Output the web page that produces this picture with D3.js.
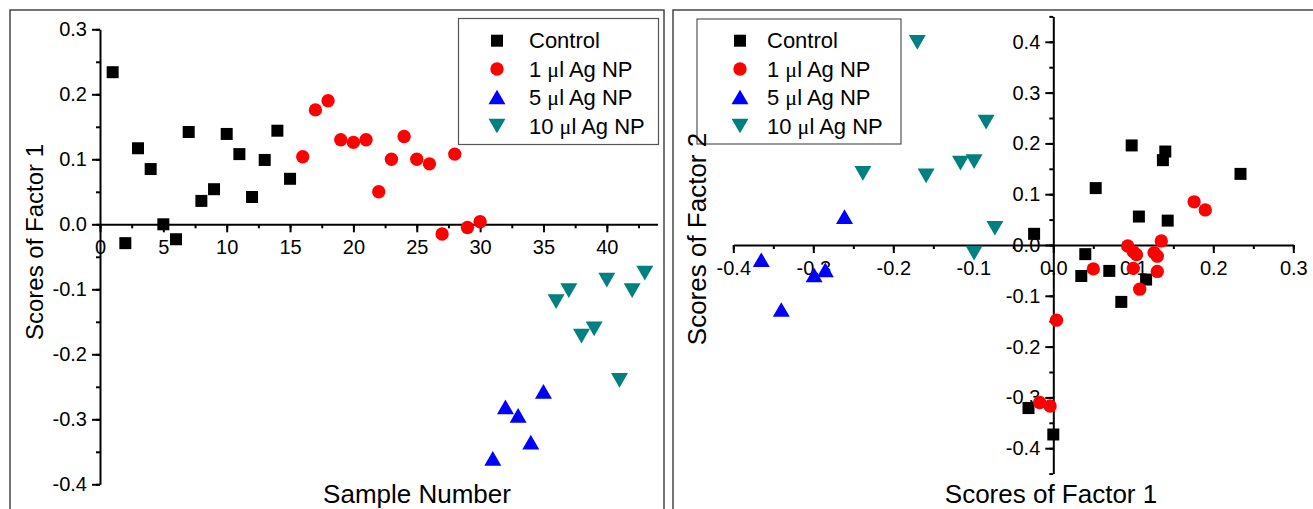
<!DOCTYPE html>
<html>
<head>
<meta charset="utf-8">
<script src="https://cdn.jsdelivr.net/npm/d3@7"></script>
<style>
  html, body { margin: 0; padding: 0; background: #fff; }
  svg { display: block; font-family: Arial, "Liberation Sans", sans-serif; }
</style>
</head>
<body>
<svg class="svg"></svg>
<script>
// legend / series names
const groupNames = ["Control", "1 \u03bcl Ag NP", "5 \u03bcl Ag NP", "10 \u03bcl Ag NP"]
const groupColors = ["#000000", "#ff0000", "#0000ff", "#008080"]

// left panel: scores of factor 1 by sample number
const sampleControl = [1, 2, 3, 4, 5, 6, 7, 8, 9, 10, 11, 12, 13, 14, 15]
const f1Control = [0.234, -0.029, 0.117, 0.085, 0.000, -0.023, 0.142, 0.036, 0.054, 0.139, 0.108, 0.042, 0.099, 0.144, 0.070]
const sample1ul = [16, 17, 18, 19, 20, 21, 22, 23, 24, 25, 26, 27, 28, 29, 30]
const f1Ag1 = [0.104, 0.176, 0.190, 0.130, 0.126, 0.130, 0.050, 0.100, 0.135, 0.100, 0.093, -0.015, 0.108, -0.005, 0.004]
const sample5ul = [31, 32, 33, 34, 35]
const f1Ag5 = [-0.360, -0.281, -0.294, -0.335, -0.257]
const sample10ul = [36, 37, 38, 39, 40, 41, 42, 43]
const f1Ag10 = [-0.119, -0.102, -0.172, -0.161, -0.086, -0.240, -0.102, -0.075]

// right panel: factor 1 vs factor 2
const pcControlX = [0.098, 0.140, 0.137, 0.234, 0.053, 0.107, 0.143, -0.024, 0.040, 0.035, 0.070, 0.116, 0.085, -0.031, 0.000]
const pcControlY = [0.196, 0.184, 0.167, 0.140, 0.112, 0.056, 0.048, 0.022, -0.018, -0.061, -0.051, -0.068, -0.112, -0.321, -0.373]
const pcAg1X = [0.176, 0.190, 0.093, 0.135, 0.100, 0.104, 0.126, 0.130, 0.050, 0.100, 0.130, 0.108, 0.004, -0.017, -0.004]
const pcAg1Y = [0.085, 0.069, -0.002, 0.008, -0.013, -0.019, -0.015, -0.022, -0.047, -0.046, -0.052, -0.087, -0.148, -0.310, -0.317]
const pcAg5X = [-0.365, -0.340, -0.299, -0.285, -0.261]
const pcAg5Y = [-0.029, -0.127, -0.059, -0.049, 0.056]
const pcAg10X = [-0.170, -0.084, -0.238, -0.159, -0.116, -0.099, -0.073, -0.099]
const pcAg10Y = [0.399, 0.242, 0.141, 0.136, 0.161, 0.164, 0.033, -0.016]

// ticks
const leftXTicks = [0, 5, 10, 15, 20, 25, 30, 35, 40]
const leftYTicks = [-0.4, -0.3, -0.2, -0.1, 0.0, 0.1, 0.2, 0.3]
const rightXTicks = [-0.4, -0.3, -0.2, -0.1, 0.0, 0.1, 0.2, 0.3]
const rightYTicks = [-0.4, -0.3, -0.2, -0.1, 0.0, 0.1, 0.2, 0.3, 0.4]

// triangles centred on their box, like Origin draws them
const triUp = {
  draw(ctx, size) {
    const w = Math.sqrt(size * 4 / Math.sqrt(3)), h = w * Math.sqrt(3) / 2
    ctx.moveTo(0, -h / 2); ctx.lineTo(w / 2, h / 2); ctx.lineTo(-w / 2, h / 2); ctx.closePath()
  }
}
const triDown = {
  draw(ctx, size) {
    const w = Math.sqrt(size * 4 / Math.sqrt(3)), h = w * Math.sqrt(3) / 2
    ctx.moveTo(0, h / 2); ctx.lineTo(w / 2, -h / 2); ctx.lineTo(-w / 2, -h / 2); ctx.closePath()
  }
}
const symbolTypes = [d3.symbolSquare, d3.symbolCircle, triUp, triDown]
const symbolSizes = [144, 140, 125, 125]
const symbolPath = (i) => d3.symbol().type(symbolTypes[i]).size(symbolSizes[i])()

const W = 1313, H = 509
const svg = d3.select(".svg").attr("width", W).attr("height", H)

// panel frames
svg.append("rect").attr("x", 10).attr("y", 10).attr("width", 654).attr("height", 540)
  .attr("fill", "none").attr("stroke", "#3a3a3a").attr("stroke-width", 1.4)
svg.append("rect").attr("x", 673).attr("y", 10).attr("width", 700).attr("height", 540)
  .attr("fill", "none").attr("stroke", "#3a3a3a").attr("stroke-width", 1.4)

const fmt1 = (v) => v.toFixed(1)

function styleAxis(g) {
  g.select(".domain").attr("stroke", "#000").attr("stroke-width", 2)
  g.selectAll(".tick line").attr("stroke", "#000").attr("stroke-width", 2)
  g.selectAll(".tick text").attr("fill", "#000").attr("font-size", 20)
    .attr("font-family", "Arial, 'Liberation Sans', sans-serif")
}

function drawAxes(x, y, xTicks, yTicks, xMinor, yMinor, xFmt) {
  const gx = svg.append("g").attr("transform", `translate(0,${y(0)})`)
  gx.call(d3.axisBottom(x).tickValues(xMinor).tickSize(4).tickFormat("").tickSizeOuter(0))
  gx.call(styleAxis)
  const gx2 = svg.append("g").attr("transform", `translate(0,${y(0)})`)
  gx2.call(d3.axisBottom(x).tickValues(xTicks).tickSize(8).tickPadding(8).tickFormat(xFmt).tickSizeOuter(0))
  gx2.call(styleAxis)
  gx2.select(".domain").remove()

  const gy = svg.append("g").attr("transform", `translate(${x(0)},0)`)
  gy.call(d3.axisLeft(y).tickValues(yMinor).tickSize(4).tickFormat("").tickSizeOuter(0))
  gy.call(styleAxis)
  const gy2 = svg.append("g").attr("transform", `translate(${x(0)},0)`)
  gy2.call(d3.axisLeft(y).tickValues(yTicks).tickSize(8).tickPadding(5).tickFormat(fmt1).tickSizeOuter(0))
  gy2.call(styleAxis)
  gy2.select(".domain").remove()
}

function drawPoints(x, y, xs, ys, i) {
  svg.append("g").selectAll("path")
    .data(xs.map((v, k) => [v, ys[k]]))
    .join("path")
    .attr("d", symbolPath(i))
    .attr("fill", groupColors[i])
    .attr("transform", (d) => `translate(${x(d[0])},${y(d[1])})`)
}

function drawLegend(x0, y0, w, h, mx, tx) {
  const g = svg.append("g")
  g.append("rect").attr("x", x0).attr("y", y0).attr("width", w).attr("height", h)
    .attr("fill", "#fff").attr("stroke", "#555").attr("stroke-width", 1.2)
  const rows = [40.7, 69, 97, 126]
  groupNames.forEach((name, i) => {
    g.append("path").attr("d", symbolPath(i)).attr("fill", groupColors[i])
      .attr("transform", `translate(${mx},${rows[i]})`)
    const t = g.append("text").attr("x", tx).attr("y", rows[i]).attr("dy", "0.35em")
      .attr("font-size", 22).attr("fill", "#000")
    // the mu comes from a symbol (serif) font in the original
    name.split(/(\u03bc)/).forEach((part) => {
      if (!part) return
      const s = t.append("tspan").text(part)
      if (part === "\u03bc") s.attr("font-family", "'Liberation Serif', 'DejaVu Serif', serif")
    })
  })
}

function axisTitle(text, cx, cy, rotate, size) {
  svg.append("text")
    .attr("transform", `translate(${cx},${cy})` + (rotate ? " rotate(-90)" : ""))
    .attr("text-anchor", "middle").attr("font-size", size).attr("fill", "#000")
    .text(text)
}

// ---------- left panel ----------
const xL = d3.scaleLinear().domain([0, 44]).range([100, 657.5])
const yL = d3.scaleLinear().domain([-0.4, 0.3]).range([484.3, 29.3])
const leftXMinor = d3.range(0, 44.01, 2.5)
const leftYMinor = d3.range(-0.4, 0.301, 0.05)
drawAxes(xL, yL, leftXTicks, leftYTicks, leftXMinor, leftYMinor, (d) => d)

drawPoints(xL, yL, sampleControl, f1Control, 0)
drawPoints(xL, yL, sample1ul, f1Ag1, 1)
drawPoints(xL, yL, sample5ul, f1Ag5, 2)
drawPoints(xL, yL, sample10ul, f1Ag10, 3)

drawLegend(458.5, 18.5, 200, 126, 497, 529)
axisTitle("Sample Number", 417, 503, false, 26)
axisTitle("Scores of Factor 1", 43, 242, true, 24)

// ---------- right panel ----------
const xR = d3.scaleLinear().domain([-0.4, 0.3]).range([733.3, 1293.3])
const yR = d3.scaleLinear().domain([-0.45, 0.45]).range([473.6, 16.4])
const rightXMinor = d3.range(-0.4, 0.301, 0.05)
const rightYMinor = d3.range(-0.45, 0.451, 0.05)
drawAxes(xR, yR, rightXTicks, rightYTicks, rightXMinor, rightYMinor, fmt1)

drawPoints(xR, yR, pcControlX, pcControlY, 0)
drawPoints(xR, yR, pcAg1X, pcAg1Y, 1)
drawPoints(xR, yR, pcAg5X, pcAg5Y, 2)
drawPoints(xR, yR, pcAg10X, pcAg10Y, 3)

drawLegend(697, 19, 204, 125, 740, 767)
axisTitle("Scores of Factor 1", 1051, 503, false, 26)
axisTitle("Scores of Factor 2", 706, 239, true, 26)
</script>
</body>
</html>
